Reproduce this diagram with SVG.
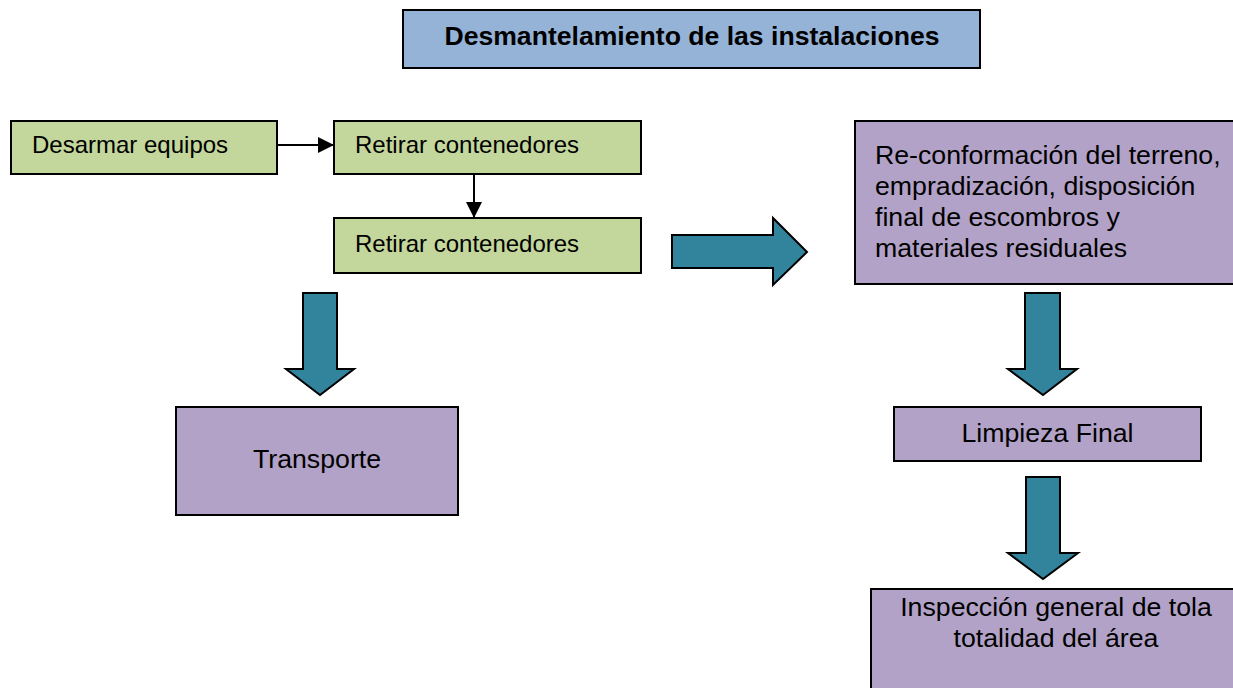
<svg xmlns="http://www.w3.org/2000/svg" width="1233" height="688" viewBox="0 0 1233 688">
<style>
.box{stroke:#000;stroke-width:2}
.green{fill:#c3d69b}
.purple{fill:#b2a2c7}
.blue{fill:#95b3d7}
.big{fill:#31849b;stroke:#000;stroke-width:2;stroke-linejoin:miter}
text{font-family:"Liberation Sans",Arial,sans-serif;fill:#000}
.t24{font-size:24px}
.t26{font-size:26.7px}
.title{font-size:26.6px;font-weight:bold}
.line{stroke:#000;stroke-width:2;fill:none}
</style>
<defs>
<marker id="ah" markerWidth="16" markerHeight="16" refX="16" refY="8" orient="auto" markerUnits="userSpaceOnUse">
<path d="M0,0 L16,8 L0,16 Z" fill="#000"/>
</marker>
</defs>
<rect width="1233" height="688" fill="#fff"/>

<g id="title">
<rect class="box blue" x="403" y="10" width="577" height="58"/>
<text class="title" x="692" y="45" text-anchor="middle">Desmantelamiento de las instalaciones</text>
</g>

<g id="desarmar">
<rect class="box green" x="11" y="121" width="266" height="53"/>
<text class="t24" x="32" y="153">Desarmar equipos</text>
</g>

<g id="retirar1">
<rect class="box green" x="334" y="121" width="307" height="53"/>
<text class="t24" x="355" y="153">Retirar contenedores</text>
</g>

<g id="retirar2">
<rect class="box green" x="334" y="218" width="307" height="55"/>
<text class="t24" x="355" y="252">Retirar contenedores</text>
</g>

<g id="transporte">
<rect class="box purple" x="176" y="407" width="282" height="108"/>
<text class="t26" x="317" y="468" text-anchor="middle">Transporte</text>
</g>

<g id="reconformacion">
<rect class="box purple" x="855" y="121" width="390" height="163"/>
<text class="t26" x="875"><tspan x="875" y="164">Re-conformación del terreno,</tspan><tspan x="875" y="195">empradización, disposición</tspan><tspan x="875" y="226">final de escombros y</tspan><tspan x="875" y="257">materiales residuales</tspan></text>
</g>

<g id="limpieza">
<rect class="box purple" x="894" y="407" width="307" height="54"/>
<text class="t26" x="1047.5" y="442" text-anchor="middle">Limpieza Final</text>
</g>

<g id="inspeccion">
<rect class="box purple" x="871" y="589" width="372" height="110"/>
<text class="t26" text-anchor="middle"><tspan x="1056" y="616">Inspección general de tola</tspan><tspan x="1056" y="647">totalidad del área</tspan></text>
</g>

<g id="connectors">
<line class="line" x1="277" y1="145" x2="334" y2="145" marker-end="url(#ah)"/>
<line class="line" x1="474" y1="174" x2="474" y2="218" marker-end="url(#ah)"/>
<path class="big" d="M303,293 L337,293 L337,369 L354,369 L320,395 L286,369 L303,369 Z"/>
<path class="big" d="M672,235 L773,235 L773,218 L807,252 L773,285 L773,268 L672,268 Z"/>
<path class="big" d="M1025,293 L1060,293 L1060,369 L1077,369 L1043,395 L1008,369 L1025,369 Z"/>
<path class="big" d="M1026,477 L1060,477 L1060,553 L1078,553 L1043,579 L1008,553 L1026,553 Z"/>
</g>
</svg>
